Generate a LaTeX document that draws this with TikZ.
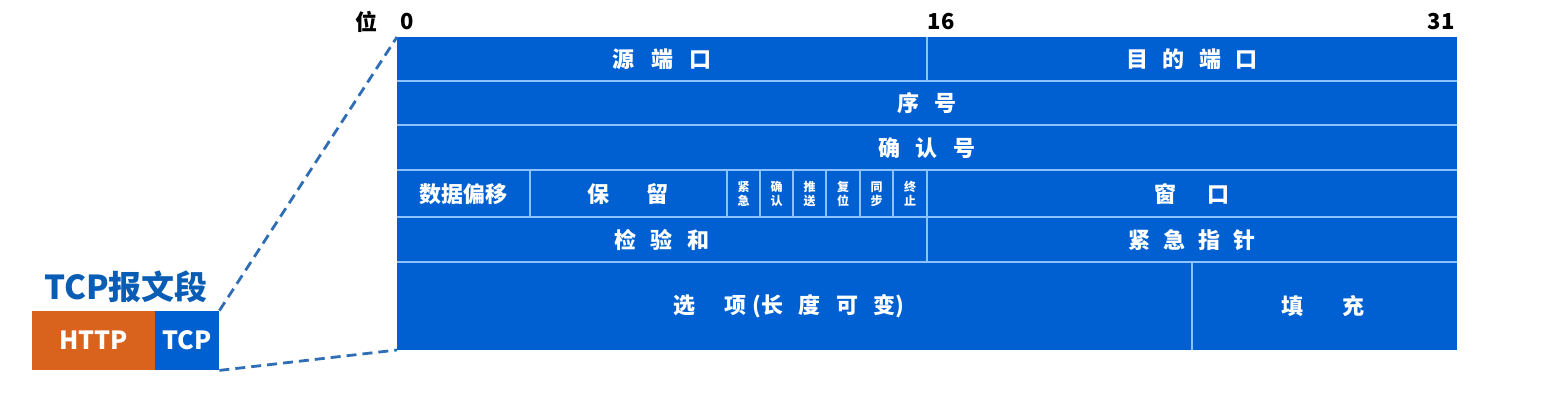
\documentclass[tikz,border=0pt]{standalone}
\usepackage{fontspec}
\setmainfont{Noto Sans CJK SC}
\usepackage{tikz}
\definecolor{hdrblue}{HTML}{0060D2}
\definecolor{gridline}{HTML}{8CC2FF}
\definecolor{httporange}{HTML}{D9621C}
\definecolor{titleblue}{HTML}{0A5DB5}
\definecolor{dashblue}{HTML}{2F6DB5}
\tikzset{
	field/.style={text=white,font=\fontsize{11}{13}\selectfont\bfseries,inner sep=0pt},
	flag/.style={text=white,font=\fontsize{6}{7}\selectfont\bfseries,align=center,inner sep=0pt},
	bitno/.style={font=\fontsize{11}{13}\selectfont\bfseries,inner sep=0pt},
	seg/.style={text=white,font=\fontsize{12.5}{14}\selectfont\bfseries,minimum height=29.5pt,inner sep=0pt},
	zoomline/.style={dashblue,dash pattern=on 5pt off 3pt,line width=1.4pt}
}
\newcommand{\gap}[1]{\hspace{#1em}}
\begin{document}
\begin{tikzpicture}[x=0.5pt,y=-0.5pt]
	\useasboundingbox (0,0) rectangle (1547,400);
	% header block
	\fill[hdrblue] (397,37) rectangle (1457,350);
	\coordinate (hdrNW) at (397,37);
	\coordinate (hdrSW) at (397,350);
	\begin{scope}[draw=gridline,line width=1pt]
		\foreach \y in {81,125,170,217,262}{
			\draw (397,\y) -- (1457,\y);
		}
		\draw (927,37) -- (927,81);
		\draw (927,170) -- (927,262);
		\foreach \x in {530,727,760,793,826,860,893}{
			\draw (\x,170) -- (\x,217);
		}
		\draw (1192,262) -- (1192,350);
	\end{scope}
	% bit numbers
	\node[bitno] (wei) at (366,22) {位};
	\node[bitno] (b0) at (407,22) {0};
	\node[bitno] (b16) at (941,22) {16};
	\node[bitno] (b31) at (1441,22) {31};
	% fields
	\node[field] (srcport) at (662,59) {源\gap{0.75}端\gap{0.75}口};
	\node[field] (dstport) at (1192,59) {目\gap{0.65}的\gap{0.65}端\gap{0.65}口};
	\node[field] (seqno) at (927,103) {序\gap{0.7}号};
	\node[field] (ackno) at (927,148) {确\gap{0.7}认\gap{0.7}号};
	\node[field] (offset) at (463,194) {数据偏移};
	\node[field] (rsvd) at (628,194) {保\gap{1.7}留};
	\node[flag] (urg) at (743.5,194) {紧\\急};
	\node[flag] (ack) at (776.5,194) {确\\认};
	\node[flag] (psh) at (809.5,194) {推\\送};
	\node[flag] (rst) at (843,194) {复\\位};
	\node[flag] (syn) at (876.5,194) {同\\步};
	\node[flag] (fin) at (910,194) {终\\止};
	\node[field] (window) at (1192,194) {窗\gap{1.4}口};
	\node[field] (chksum) at (662,240) {检\gap{0.65}验\gap{0.65}和};
	\node[field] (urgptr) at (1192,240) {紧\gap{0.6}急\gap{0.6}指\gap{0.6}针};
	\node[field] (options) at (789,306) {选\gap{1.3}项\gap{0.3}(长\gap{0.7}度\gap{0.7}可\gap{0.7}变)};
	\node[field] (padding) at (1323,306) {填\gap{1.8}充};
	% segment
	\node[seg,fill=httporange,minimum width=61.5pt] (http) at (93.5,340.5) {HTTP};
	\node[seg,fill=hdrblue,minimum width=32pt] (tcp) at (187,340.5) {TCP};
	\node[text=titleblue,font=\fontsize{16.5}{18}\selectfont\bfseries,inner sep=0pt] (segtitle) at (126,287) {TCP报文段};
	\draw[zoomline] (tcp.north east) -- (hdrNW);
	\draw[zoomline] (tcp.south east) -- (hdrSW);
\end{tikzpicture}
\end{document}
